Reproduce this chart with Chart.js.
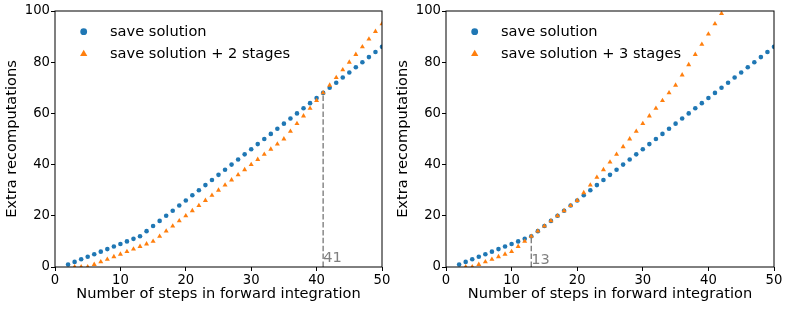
<!DOCTYPE html>
<html><head><meta charset="utf-8">
<script src="https://cdn.jsdelivr.net/npm/chart.js@4/dist/chart.umd.min.js"></script>
<style>
html,body{margin:0;padding:0;background:#fff;}
#wrap{position:relative;width:789px;height:310px;overflow:hidden;background:#fff;}
canvas{position:absolute;top:0;}
</style></head><body>
<div id="wrap">
<canvas id="c1" width="392" height="310" style="left:0"></canvas>
<canvas id="c2" width="398" height="310" style="left:391px"></canvas>
</div>
<script>
// ---- data ----
const stepsSave = [2,3,4,5,6,7,8,9,10,11,12,13,14,15,16,17,18,19,20,21,22,23,24,25,26,27,28,29,30,31,32,33,34,35,36,37,38,39,40,41,42,43,44,45,46,47,48,49,50];
const saveSolution = [1,2,3,4,5,6,7,8,9,10,11,12,14,16,18,20,22,24,26,28,30,32,34,36,38,40,42,44,46,48,50,52,54,56,58,60,62,64,66,68,70,72,74,76,78,80,82,84,86];
const steps2Stages = [3,4,5,6,7,8,9,10,11,12,13,14,15,16,17,18,19,20,21,22,23,24,25,26,27,28,29,30,31,32,33,34,35,36,37,38,39,40,41,42,43,44,45,46,47,48,49,50];
const saveSolution2Stages = [0,0,0,1,2,3,4,5,6,7,8,9,10,12,14,16,18,20,22,24,26,28,30,32,34,36,38,40,42,44,46,48,50,53,56,59,62,65,68,71,74,77,80,83,86,89,92,95];
const steps3Stages = [3,4,5,6,7,8,9,10,11,12,13,14,15,16,17,18,19,20,21,22,23,24,25,26,27,28,29,30,31,32,33,34,35,36,37,38,39,40,41,42];
const saveSolution3Stages = [0,0,1,2,3,4,5,6,8,10,12,14,16,18,20,22,24,26,29,32,35,38,41,44,47,50,53,56,59,62,65,68,71,75,79,83,87,91,95,99];
const crossing2 = [41, 68];   // step, value
const crossing3 = [13, 12];
const crossingLabelY2 = 2;
const crossingLabelY3 = 1;
const xTickValues = [0,10,20,30,40,50];
const yTickValues = [0,20,40,60,80,100];
const legendLabels1 = ['save solution', 'save solution + 2 stages'];
const legendLabels2 = ['save solution', 'save solution + 3 stages'];
const xTitle = 'Number of steps in forward integration';
const yTitle = 'Extra recomputations';

// ---- styles ----
const BLUE = '#1f77b4', ORANGE = '#ff7f0e', GRAY = '#808080';
const FONT = "'DejaVu Sans', sans-serif";

function pts(xs, ys){ return xs.map((x,i)=>({x:x, y:ys[i]})); }

const framePlugin = {
  id: 'frame',
  afterDatasetsDraw(chart, args, opts){
    const {ctx, chartArea:a, scales} = chart;
    ctx.save();
    // annotation text
    ctx.fillStyle = GRAY;
    ctx.font = "14.6px " + FONT;
    ctx.textAlign = 'left';
    ctx.textBaseline = 'alphabetic';
    ctx.fillText(String(opts.cross[0]), scales.x.getPixelForValue(opts.cross[0]), scales.y.getPixelForValue(opts.labelY));
    // frame
    ctx.strokeStyle = '#000';
    ctx.lineWidth = 1;
    ctx.strokeRect(a.left, a.top, a.right - a.left, a.bottom - a.top);
    // legend
    const lx = a.left + 28.7;
    const rows = [a.top + 20.7, a.top + 42.3];
    ctx.fillStyle = BLUE;
    ctx.beginPath(); ctx.arc(lx, rows[0], 3.4, 0, Math.PI*2); ctx.fill();
    ctx.fillStyle = ORANGE;
    const r = 4.2, cy = rows[1] + 0.6;
    ctx.beginPath();
    ctx.moveTo(lx, cy - r);
    ctx.lineTo(lx + r*Math.sin(2*Math.PI/3), cy - r*Math.cos(2*Math.PI/3));
    ctx.lineTo(lx + r*Math.sin(4*Math.PI/3), cy - r*Math.cos(4*Math.PI/3));
    ctx.closePath(); ctx.fill();
    ctx.fillStyle = '#000';
    ctx.font = "14.6px " + FONT;
    ctx.fillText(opts.labels[0], a.left + 55, a.top + 25.1);
    ctx.fillText(opts.labels[1], a.left + 55, a.top + 46.8);
    ctx.restore();
  }
};

function makeChart(id, orangeSteps, orangeVals, cross, labelY, labels, padRight){
  const ctx = document.getElementById(id);
  return new Chart(ctx, {
    type: 'scatter',
    data: {
      datasets: [
        { label: labels[0], data: pts(stepsSave, saveSolution), backgroundColor: BLUE, borderWidth: 0,
          pointStyle: 'circle', pointRadius: 2.3, order: 3, clip: 0 },
        { label: labels[1], data: pts(orangeSteps, orangeVals), backgroundColor: ORANGE, borderWidth: 0,
          pointStyle: 'triangle', pointRadius: 2.9, order: 2, clip: 0 },
        { label: 'crossing', data: [{x: cross[0], y: 0}, {x: cross[0], y: cross[1]}], showLine: true,
          borderColor: GRAY, borderWidth: 1.4, borderDash: [5.5, 2.4], pointRadius: 0, order: 1, clip: 0 }
      ]
    },
    options: {
      responsive: false,
      animation: false,
      devicePixelRatio: 1,
      layout: { padding: { top: 11, right: padRight, left: 0, bottom: 0 } },
      plugins: {
        legend: { display: false },
        tooltip: { enabled: false },
        frame: { cross: cross, labelY: labelY, labels: labels }
      },
      scales: {
        x: {
          type: 'linear', min: 0, max: 50,
          afterBuildTicks: s => { s.ticks = xTickValues.map(v => ({value: v})); },
          afterFit: s => { s.height = 43; },
          ticks: { color: '#000', font: { family: FONT, size: 13.2 }, padding: 1.2, maxRotation: 0 },
          grid: { display: true, drawOnChartArea: false, drawTicks: true, tickLength: 4, color: '#000', lineWidth: 1 },
          border: { display: false },
          title: { display: true, text: xTitle, color: '#000', font: { family: FONT, size: 14.6 }, padding: { top: 0, bottom: 6.6 } }
        },
        y: {
          type: 'linear', min: 0, max: 100,
          afterBuildTicks: s => { s.ticks = yTickValues.map(v => ({value: v})); },
          afterFit: s => { s.width = 55; },
          ticks: { color: '#000', font: { family: FONT, size: 13.2 }, padding: 1 },
          grid: { display: true, drawOnChartArea: false, drawTicks: true, tickLength: 4, color: '#000', lineWidth: 1 },
          border: { display: false },
          title: { display: true, text: yTitle, color: '#000', font: { family: FONT, size: 14.6 }, padding: { top: 3.7, bottom: 0 } }
        }
      }
    },
    plugins: [framePlugin]
  });
}

makeChart('c1', steps2Stages, saveSolution2Stages, crossing2, crossingLabelY2, legendLabels1, 10);
makeChart('c2', steps3Stages, saveSolution3Stages, crossing3, crossingLabelY3, legendLabels2, 15);
</script>
</body></html>
